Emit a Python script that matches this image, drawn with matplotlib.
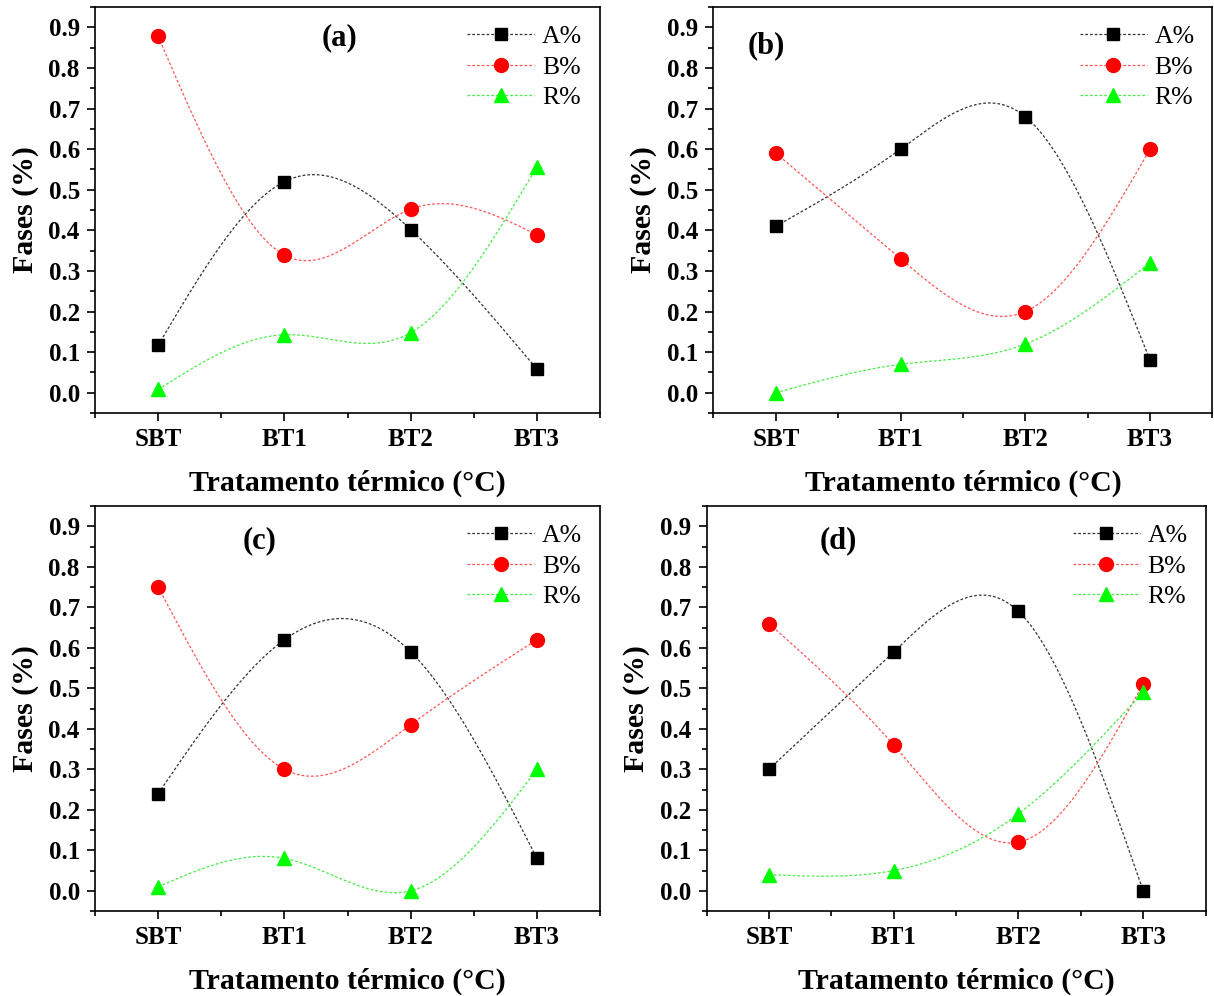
import numpy as np
import matplotlib
matplotlib.use("Agg")
import matplotlib.pyplot as plt
from matplotlib.ticker import MultipleLocator, FormatStrFormatter

plt.rcParams['font.family'] = ['Liberation Serif', 'DejaVu Serif']

categories = ['SBT', 'BT1', 'BT2', 'BT3']
panel_tags = ['(a)', '(b)', '(c)', '(d)']

a_A = [0.117, 0.52, 0.402, 0.058]
a_B = [0.878, 0.339, 0.452, 0.389]
a_R = [0.008, 0.143, 0.148, 0.557]

b_A = [0.41, 0.60, 0.68, 0.08]
b_B = [0.59, 0.33, 0.20, 0.60]
b_R = [0.0, 0.07, 0.12, 0.32]

c_A = [0.24, 0.62, 0.59, 0.08]
c_B = [0.75, 0.30, 0.41, 0.62]
c_R = [0.01, 0.08, 0.0, 0.30]

d_A = [0.30, 0.59, 0.69, 0.0]
d_B = [0.66, 0.36, 0.12, 0.51]
d_R = [0.04, 0.05, 0.19, 0.49]


def natural_spline(x, y, n=300):
    # natural cubic spline through the points (second derivative 0 at ends)
    x = np.asarray(x, float)
    y = np.asarray(y, float)
    k = len(x)
    h = np.diff(x)
    mat = np.zeros((k, k))
    rhs = np.zeros(k)
    mat[0, 0] = 1
    mat[-1, -1] = 1
    for i in range(1, k - 1):
        mat[i, i - 1] = h[i - 1]
        mat[i, i] = 2 * (h[i - 1] + h[i])
        mat[i, i + 1] = h[i]
        rhs[i] = 6 * ((y[i + 1] - y[i]) / h[i] - (y[i] - y[i - 1]) / h[i - 1])
    m = np.linalg.solve(mat, rhs)
    xs = np.linspace(x[0], x[-1], n)
    idx = np.clip(np.searchsorted(x, xs) - 1, 0, k - 2)
    x0, x1 = x[idx], x[idx + 1]
    hh = x1 - x0
    t0 = x1 - xs
    t1 = xs - x0
    ys = (m[idx] * t0 ** 3 / (6 * hh) + m[idx + 1] * t1 ** 3 / (6 * hh)
          + (y[idx] / hh - m[idx] * hh / 6) * t0
          + (y[idx + 1] / hh - m[idx + 1] * hh / 6) * t1)
    return xs, ys


fig = plt.figure(figsize=(12.14, 9.96), dpi=100)
rects = [
    [0.0783, 0.5853, 0.4160, 0.4076],
    [0.5877, 0.5853, 0.4110, 0.4076],
    [0.0783, 0.0853, 0.4160, 0.4066],
    [0.5820, 0.0853, 0.4110, 0.4066],
]
tag_pos = [(0.485, 0.925), (0.105, 0.905), (0.325, 0.915), (0.265, 0.915)]
panels = [(a_A, a_B, a_R), (b_A, b_B, b_R), (c_A, c_B, c_R), (d_A, d_B, d_R)]
styles = [('A%', '#333333', 'black', 's', 9),
          ('B%', '#ff5555', 'red', 'o', 10),
          ('R%', '#44ee44', '#00ff00', '^', 10)]
dash = (2.2, 1.6)

x = np.arange(len(categories))
for rect, tag, tpos, series in zip(rects, panel_tags, tag_pos, panels):
    ax = fig.add_axes(rect)
    for vals, (lab, lcol, col, mk, ms) in zip(series, styles):
        xs, ys = natural_spline(x, vals)
        ax.plot(xs, ys, color=lcol, lw=0.9, dashes=dash)
        ax.plot(x, vals, linestyle='none', marker=mk, color=col, ms=ms)
        # legend entry: dashed line with marker in the middle
        ax.plot([], [], color=lcol, lw=0.9, dashes=dash, marker=mk,
                mfc=col, mec=col, ms=ms, label=lab)
    ax.set_xlim(-0.5, 3.5)
    ax.set_ylim(-0.05, 0.95)
    ax.set_xticks(x)
    ax.set_xticklabels(categories)
    ax.xaxis.set_minor_locator(MultipleLocator(0.5))
    ax.yaxis.set_major_locator(MultipleLocator(0.1))
    ax.yaxis.set_minor_locator(MultipleLocator(0.05))
    ax.yaxis.set_major_formatter(FormatStrFormatter('%.1f'))
    ax.tick_params(which='both', direction='out', width=1.2, top=False, right=False)
    ax.tick_params(which='major', length=6, labelsize=18, pad=5)
    ax.tick_params(which='minor', length=3.5)
    for lbl in ax.get_xticklabels() + ax.get_yticklabels():
        lbl.set_fontweight('bold')
    for sp in ax.spines.values():
        sp.set_linewidth(1.2)
    ax.set_xlabel('Tratamento térmico (°C)', fontsize=21.5, fontweight='bold', labelpad=13)
    ax.set_ylabel('Fases (%)', fontsize=21.5, fontweight='bold', labelpad=7)
    ax.text(tpos[0], tpos[1], tag, transform=ax.transAxes, fontsize=22,
            fontweight='bold', ha='center', va='center')
    ax.legend(loc='upper right', frameon=False, fontsize=18.5, handlelength=2.6,
              handletextpad=0.3, labelspacing=0.3, borderaxespad=0.3,
              numpoints=1)

fig.savefig('out.png', dpi=100)
